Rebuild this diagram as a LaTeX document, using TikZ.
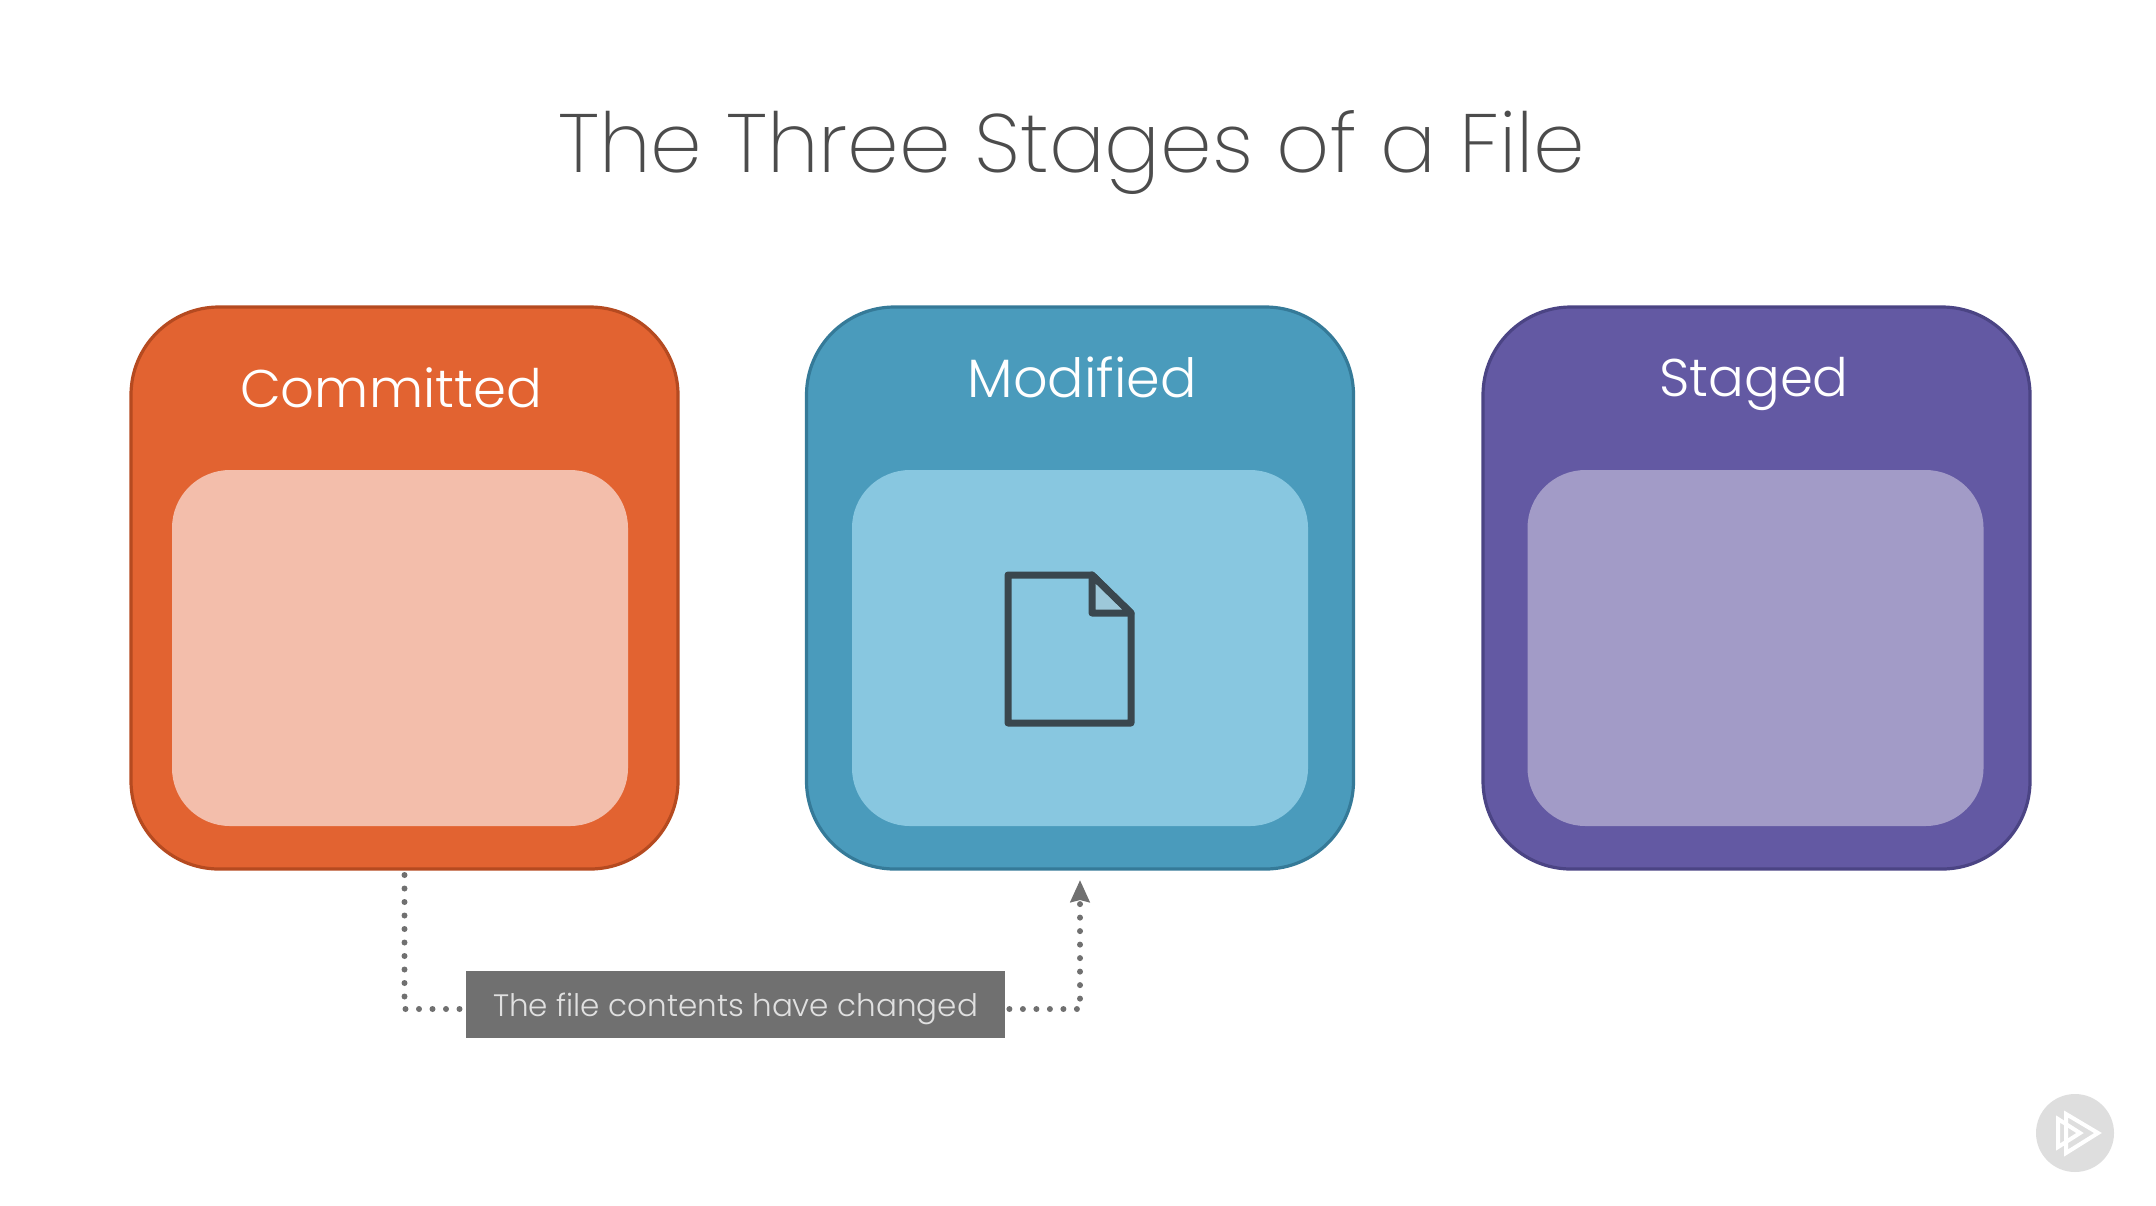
\documentclass[tikz,border=0pt]{standalone}
\usepackage{fontspec}
\usetikzlibrary{arrows.meta}
\setmainfont[UprightFont={* Light}]{Poppins}
\newfontfamily\titlefont[UprightFont={* ExtraLight}]{Poppins}

\definecolor{orangeout}{HTML}{E26331}
\definecolor{orangeline}{HTML}{B54A20}
\definecolor{orangein}{HTML}{F3BEAB}
\definecolor{tealout}{HTML}{4A9BBC}
\definecolor{tealline}{HTML}{357A98}
\definecolor{tealin}{HTML}{88C7E0}
\definecolor{purpleout}{HTML}{6359A3}
\definecolor{purpleline}{HTML}{4B4484}
\definecolor{purplein}{HTML}{A29BC7}
\definecolor{labelgrey}{HTML}{707070}
\definecolor{iconline}{HTML}{3A474E}
\definecolor{foldfill}{HTML}{9DC8D9}

\tikzset{
	    stagebox/.style={
					rectangle,
					rounded corners=44pt,
					minimum width=273.5pt,
					minimum height=281pt,
					line width=1.6pt,
					inner sep=0pt,
					outer sep=0pt
	    },
	    innerbox/.style={
					rectangle,
					rounded corners=29pt,
					minimum width=228pt,
					minimum height=178pt,
					inner sep=0pt,
					outer sep=0pt
	    },
	    stagename/.style={
					text=white,
					font=\fontsize{26.5}{26.5}\selectfont,
					inner sep=0pt
	    },
	    dotline/.style={
					labelgrey,
					line width=3pt,
					line cap=round,
					dash pattern=on 0pt off 6.75pt
	    }
		}

\begin{document}
\begin{tikzpicture}[x=0.5pt,y=-0.5pt]
			\useasboundingbox (0,0) rectangle (2156,1205);

			\node (title) at (1072,152) [text=black!70, font=\titlefont\fontsize{41.4}{41.4}\selectfont, inner sep=0pt] {The Three Stages of a File};

			\node (committed) at (404.5,588) [stagebox, fill=orangeout, draw=orangeline] {};
			\node (modified) at (1080,588) [stagebox, fill=tealout, draw=tealline] {};
			\node (staged) at (1756.5,588) [stagebox, fill=purpleout, draw=purpleline] {};

			\node (committedin) at (400,648) [innerbox, fill=orangein] {};
			\node (modifiedin) at (1080,648) [innerbox, fill=tealin] {};
			\node (stagedin) at (1755.5,648) [innerbox, fill=purplein] {};

			\node (committedname) at (391,388) [stagename] {Committed};
			\node (modifiedname) at (1082,377) [stagename, font=\fontsize{27}{27}\selectfont] {Modified};
			\node (stagedname) at (1754,384) [stagename] {Staged};

			% file icon
			\draw[iconline, line width=3.5pt, line join=round, fill=foldfill] (1092,575) -- (1092,613) -- (1131,613) -- cycle;
			\draw[iconline, line width=3.5pt, line join=round] (1008,575) -- (1092,575) -- (1131,613) -- (1131,723) -- (1008,723) -- cycle;

			\node (change) at (735.5,1004.5) [fill=labelgrey, text=white!88!black, minimum width=269.5pt, minimum height=33.5pt, inner sep=0pt, font=\fontsize{15.5}{15.5}\selectfont] {\raisebox{-6pt}[0pt][0pt]{The file contents have changed}};

			\draw[dotline, shorten <=3pt, shorten >=2pt] (committed.south) |- ([yshift=-2.25pt]change.west);
			\draw[dotline, shorten <=2pt, shorten >=5.5pt, -{Stealth[length=11pt, width=9.5pt, inset=1pt]}] ([yshift=-2.25pt]change.east) -| (modified.south);

			% player logo
			\node (logo) at (2075,1133) [circle, fill=black!13, minimum size=39pt, inner sep=0pt] {};
			\draw[white, line width=2pt, line join=miter] (2066,1114) -- (2098,1133) -- (2066,1153) -- cycle;
			\draw[white, line width=2pt, line join=miter] (2058,1119) -- (2080,1133) -- (2058,1147) -- cycle;
		\end{tikzpicture}
\end{document}
